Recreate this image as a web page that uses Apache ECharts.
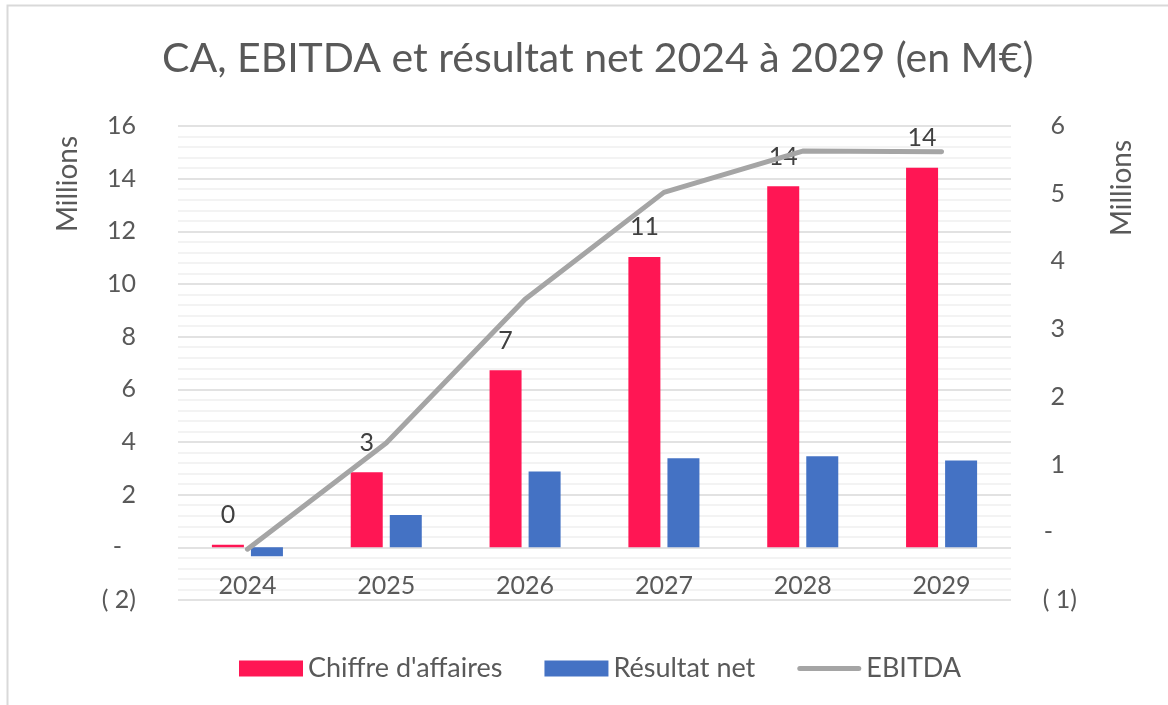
<!DOCTYPE html>
<html>
<head>
<meta charset="utf-8">
<title>CA, EBITDA et résultat net</title>
<script src="https://cdn.jsdelivr.net/npm/echarts@6/dist/echarts.min.js"></script>
<style>
  html, body { margin: 0; padding: 0; background: #fff; }
  #chart { width: 1168px; height: 705px; }
</style>
</head>
<body>
<div id="chart"></div>
<script>
// données (en millions d'euros)
var annees = ['2024', '2025', '2026', '2027', '2028', '2029'];
var chiffreAffaires = [0.1, 2.85, 6.72, 11.03, 13.71, 14.41];
var resultatNet = [-0.34, 1.23, 2.88, 3.38, 3.46, 3.30];
var ebitda = [-0.25, 1.32, 3.44, 5.02, 5.63, 5.62];

var police = 'Lato, "Noto Sans", sans-serif';
var gris = '#595959';
var tailleAxe = 25;

// format comptable : ( 2) / - / 2
function formatCompta(v) {
    if (v < 0) return '( ' + Math.abs(v) + ')';
    if (v === 0) return '{tiret|-}';
    return String(v);
}

var chart = echarts.init(document.getElementById('chart'));

var option = {
    backgroundColor: '#ffffff',
    animation: false,
    textStyle: { fontFamily: police },
    title: {
        text: 'CA, EBITDA et résultat net 2024 à 2029 (en M€)',
        left: 157,
        top: 33,
        textStyle: { fontFamily: police, fontSize: 41, fontWeight: 'normal', color: gris }
    },
    legend: {
        left: 234,
        top: 650,
        itemWidth: 64,
        itemHeight: 16,
        itemGap: 42,
        textStyle: { fontFamily: police, fontSize: 27, color: gris },
        data: [
            { name: "Chiffre d'affaires", icon: 'rect' },
            { name: 'Résultat net', icon: 'rect' },
            { name: 'EBITDA', icon: 'path://M2.5,0 H61.5 A2.5,2.5 0 0 1 61.5,5 H2.5 A2.5,2.5 0 0 1 2.5,0 Z' }
        ]
    },
    grid: {
        left: 178,
        right: 157,
        top: 126,
        bottom: 105,
        containLabel: false
    },
    xAxis: {
        type: 'category',
        data: annees,
        position: 'bottom',
        axisLine: { show: false, onZero: false },
        axisTick: { show: false },
        axisLabel: { margin: -27, fontSize: tailleAxe, color: gris, fontFamily: police }
    },
    yAxis: [
        {
            type: 'value',
            min: -2,
            max: 16,
            interval: 2,
            axisLine: { show: false },
            axisTick: { show: false },
            axisLabel: {
                margin: 42,
                fontSize: tailleAxe,
                color: gris,
                fontFamily: police,
                formatter: formatCompta,
                rich: { tiret: { fontSize: tailleAxe, color: gris, fontFamily: police, padding: [0, 14, 0, 0] } }
            },
            splitLine: { lineStyle: { color: '#D9D9D9', width: 1.5 } },
            minorTick: { show: false, splitNumber: 5 },
            minorSplitLine: { show: true, lineStyle: { color: '#F0F0F0', width: 1.5 } }
        },
        {
            type: 'value',
            min: -1,
            max: 6,
            interval: 1,
            position: 'right',
            axisLine: { show: false },
            axisTick: { show: false },
            axisLabel: {
                margin: 66,
                align: 'right',
                fontSize: tailleAxe,
                color: gris,
                fontFamily: police,
                formatter: function (v) {
                    if (v < 0) return '( ' + Math.abs(v) + ')';
                    if (v === 0) return '{tiret|-}';
                    return '{pos|' + v + '}';
                },
                rich: {
                    tiret: { fontSize: tailleAxe, color: gris, fontFamily: police, padding: [0, 24, 0, 0] },
                    pos: { fontSize: tailleAxe, color: gris, fontFamily: police, padding: [0, 12, 0, 0] }
                }
            },
            splitLine: { show: false }
        }
    ],
    series: [
        {
            name: "Chiffre d'affaires",
            type: 'bar',
            yAxisIndex: 0,
            data: chiffreAffaires,
            barWidth: 32,
            barGap: '22%',
            itemStyle: { color: '#FF1654' },
            label: {
                show: true,
                position: 'top',
                distance: 17,
                fontSize: tailleAxe,
                color: '#404040',
                fontFamily: police,
                formatter: function (p) { return Math.round(p.value); }
            }
        },
        {
            name: 'Résultat net',
            type: 'bar',
            yAxisIndex: 0,
            data: resultatNet,
            barWidth: 32,
            itemStyle: { color: '#4472C4' }
        },
        {
            name: 'EBITDA',
            type: 'line',
            yAxisIndex: 1,
            data: ebitda,
            symbol: 'none',
            z: 5,
            itemStyle: { color: '#A5A5A5' },
            lineStyle: { color: '#A5A5A5', width: 5, cap: 'round', join: 'round' }
        }
    ],
    graphic: [
        {
            type: 'rect',
            shape: { x: 7.5, y: 5.5, width: 1300, height: 900 },
            style: { fill: 'none', stroke: '#D9D9D9', lineWidth: 2 },
            silent: true
        },
        {
            type: 'text',
            x: 68,
            y: 184,
            rotation: Math.PI / 2,
            style: { text: 'Millions', fontSize: 28, fill: gris, fontFamily: police, align: 'center', verticalAlign: 'middle' }
        },
        {
            type: 'text',
            x: 1122,
            y: 188,
            rotation: Math.PI / 2,
            style: { text: 'Millions', fontSize: 28, fill: gris, fontFamily: police, align: 'center', verticalAlign: 'middle' }
        }
    ]
};

chart.setOption(option);
</script>
</body>
</html>
